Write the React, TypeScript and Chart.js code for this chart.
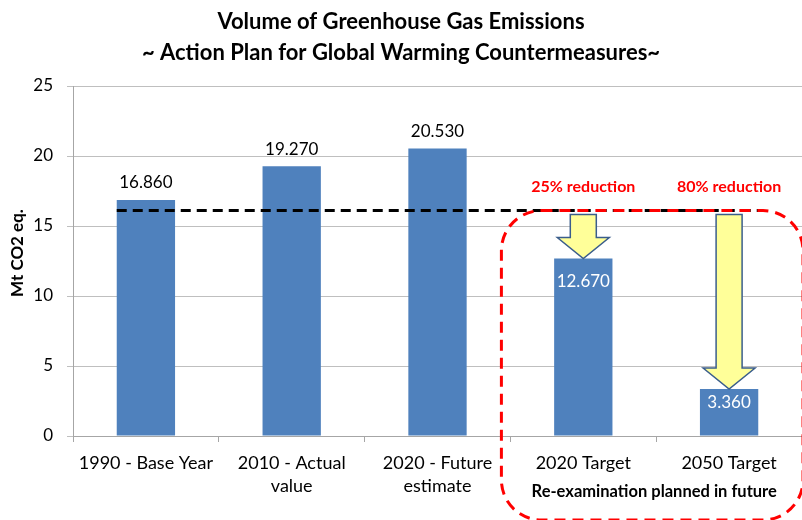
import React, { useEffect, useRef } from "react";
import { Chart, registerables } from "chart.js";

Chart.register(...registerables);

const categories: string[][] = [
  ["1990 - Base Year"],
  ["2010 - Actual", "value"],
  ["2020 - Future", "estimate"],
  ["2020 Target"],
  ["2050 Target"],
];
const emissions = [16.86, 19.27, 20.53, 12.67, 3.36];
const valueLabels = ["16.860", "19.270", "20.530", "12.670", "3.360"];
const labelInside = [false, false, false, true, true];
const reductionLabels = ["", "", "", "25% reduction", "80% reduction"];
const baseLineValue = 16.1;
const yMin = 0;
const yMax = 25;
const yStep = 5;
const titleLines = [
  "Volume of Greenhouse Gas Emissions",
  "~ Action Plan for Global Warming Countermeasures~",
];
const yAxisTitle = "Mt CO2 eq.";
const groupNote = "Re-examination planned in future";

const FONT = "Lato, 'Liberation Sans', sans-serif";

function drawArrow(ctx: CanvasRenderingContext2D, cx: number, top: number, tip: number) {
  const shaftW = 26;
  const headW = 52;
  const headH = 21;
  const shaftBottom = tip - headH;
  ctx.beginPath();
  ctx.moveTo(cx - shaftW / 2, top);
  ctx.lineTo(cx + shaftW / 2, top);
  ctx.lineTo(cx + shaftW / 2, shaftBottom);
  ctx.lineTo(cx + headW / 2, shaftBottom);
  ctx.lineTo(cx, tip);
  ctx.lineTo(cx - headW / 2, shaftBottom);
  ctx.lineTo(cx - shaftW / 2, shaftBottom);
  ctx.closePath();
  ctx.fillStyle = "#FFFF99";
  ctx.fill();
  ctx.lineWidth = 1.5;
  ctx.strokeStyle = "#3B5E8C";
  ctx.stroke();
}

function roundRectPath(ctx: CanvasRenderingContext2D, x1: number, y1: number, x2: number, y2: number, r: number) {
  ctx.beginPath();
  ctx.moveTo(x1 + r, y1);
  ctx.lineTo(x2 - r, y1);
  ctx.arcTo(x2, y1, x2, y1 + r, r);
  ctx.lineTo(x2, y2 - r);
  ctx.arcTo(x2, y2, x2 - r, y2, r);
  ctx.lineTo(x1 + r, y2);
  ctx.arcTo(x1, y2, x1, y2 - r, r);
  ctx.lineTo(x1, y1 + r);
  ctx.arcTo(x1, y1, x1 + r, y1, r);
  ctx.closePath();
}

const annotations = {
  id: "annotations",
  afterDraw(chart: any) {
    const ctx: CanvasRenderingContext2D = chart.ctx;
    const yS = chart.scales.y;
    const area = chart.chartArea;
    const bars = chart.getDatasetMeta(0).data;
    const catW = (area.right - area.left) / categories.length;
    ctx.save();

    // value labels
    ctx.textAlign = "center";
    ctx.textBaseline = "middle";
    ctx.font = `17px ${FONT}`;
    bars.forEach((b: any, i: number) => {
      if (labelInside[i]) {
        ctx.fillStyle = "#FFFFFF";
        ctx.fillText(valueLabels[i], b.x, b.y + (i === 3 ? 23 : 14));
      } else {
        ctx.fillStyle = "#000000";
        ctx.fillText(valueLabels[i], b.x, b.y - 17);
      }
    });

    // baseline dashed
    const yb = yS.getPixelForValue(baseLineValue);
    const first = bars[0];
    const last = bars[bars.length - 1];
    ctx.beginPath();
    ctx.setLineDash([10, 6]);
    ctx.lineWidth = 3;
    ctx.strokeStyle = "#000000";
    ctx.moveTo(first.x - first.width / 2, yb);
    ctx.lineTo(last.x + last.width / 2 + 5, yb);
    ctx.stroke();

    // red dashed rounded rectangle
    const leftX = bars[3].x - catW / 2 - 9;
    roundRectPath(ctx, leftX, yb, area.right + 1, 520, 40);
    ctx.setLineDash([11, 7]);
    ctx.lineWidth = 3;
    ctx.strokeStyle = "#FF0000";
    ctx.stroke();
    ctx.setLineDash([]);

    // arrows and reduction labels
    bars.forEach((b: any, i: number) => {
      if (!reductionLabels[i]) return;
      drawArrow(ctx, b.x, yb + 4, b.y);
      ctx.fillStyle = "#FF0000";
      ctx.font = `bold 16px ${FONT}`;
      ctx.textAlign = "center";
      ctx.textBaseline = "middle";
      ctx.fillText(reductionLabels[i], b.x, 187);
    });

    // group note
    ctx.fillStyle = "#000000";
    ctx.font = `bold 16.5px ${FONT}`;
    ctx.fillText(groupNote, (bars[3].x + bars[4].x) / 2 - 2, 492);

    // title
    ctx.font = `bold 22px ${FONT}`;
    ctx.fillText(titleLines[0], 401, 22);
    ctx.fillText(titleLines[1], 401, 53);

    // y axis title
    ctx.save();
    ctx.translate(18, (area.top + area.bottom) / 2 - 8);
    ctx.rotate(-Math.PI / 2);
    ctx.font = `bold 17px ${FONT}`;
    ctx.fillText(yAxisTitle, 0, 0);
    ctx.restore();

    ctx.restore();
  },
};

export default function App() {
  const ref = useRef<HTMLCanvasElement>(null);
  useEffect(() => {
    if (!ref.current) return;
    const chart = new Chart(ref.current, {
      type: "bar",
      data: {
        labels: categories,
        datasets: [
          {
            data: emissions,
            backgroundColor: "#4F81BD",
            categoryPercentage: 1,
            barPercentage: 0.4,
          },
        ],
      },
      options: {
        animation: false,
        responsive: false,
        layout: { padding: { top: 86, left: 0, right: 0, bottom: 0 } },
        plugins: { legend: { display: false }, tooltip: { enabled: false } },
        scales: {
          x: {
            grid: { offset: true, drawOnChartArea: false, drawTicks: true, tickLength: 6, color: "#A6A6A6" },
            border: { color: "#A6A6A6" },
            ticks: {
              font: { family: FONT, size: 18, lineHeight: 1.3 },
              color: "#000000",
              padding: 9,
              maxRotation: 0,
              autoSkip: false,
            },
            afterFit: (s: any) => {
              s.height = 84;
            },
          },
          y: {
            min: yMin,
            max: yMax,
            ticks: { stepSize: yStep, font: { family: FONT, size: 17 }, color: "#000000", padding: 14 },
            grid: { color: "#BFBFBF", tickLength: 6, drawTicks: true },
            border: { color: "#A6A6A6" },
            afterFit: (s: any) => {
              s.width = 73;
            },
          },
        },
      },
      plugins: [annotations],
    });
    return () => chart.destroy();
  }, []);
  return (
    <div style={{ position: "fixed", left: 0, top: 0, width: 802, height: 520, background: "#fff" }}>
      <canvas ref={ref} width={802} height={520} />
    </div>
  );
}
